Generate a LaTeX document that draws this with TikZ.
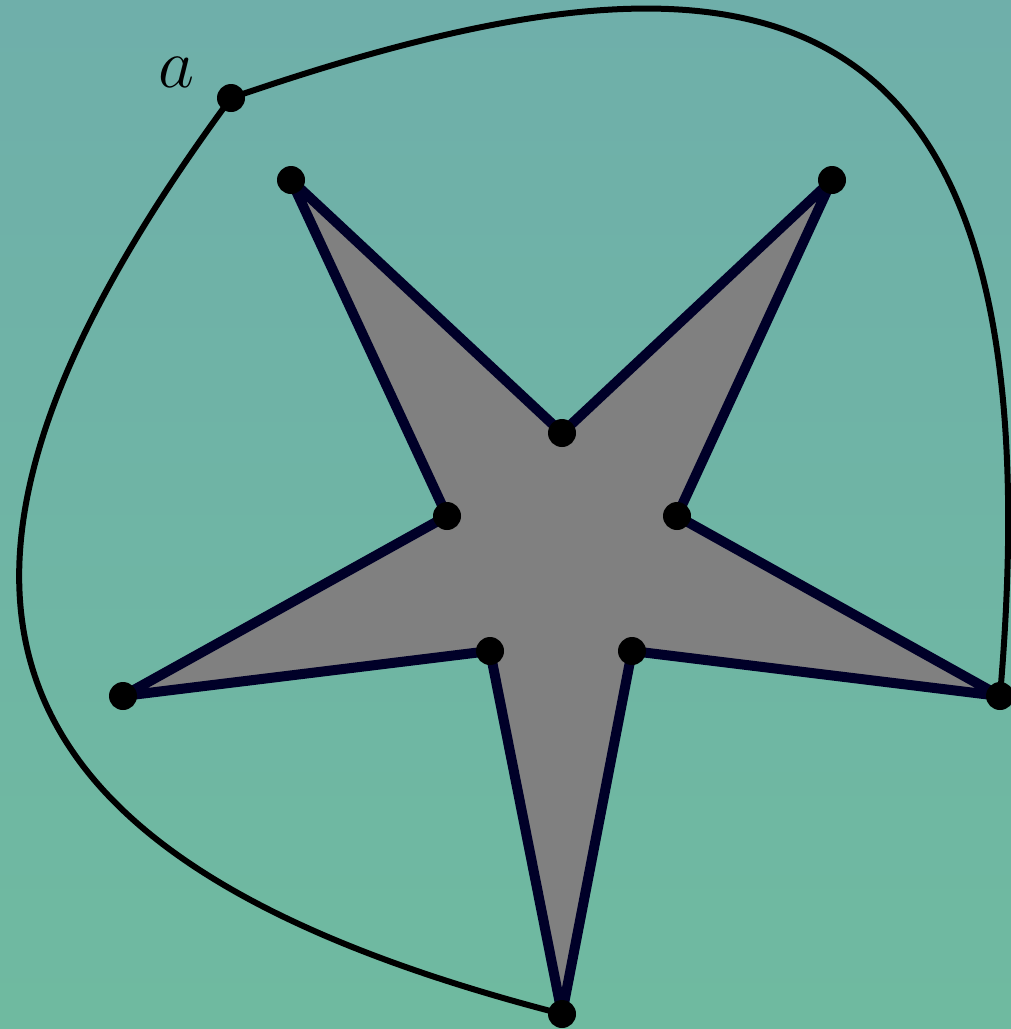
\documentclass[tikz,border=0pt]{standalone}
\usepackage{fix-cm}
\begin{document}
\begin{tikzpicture}[x=1pt,y=-1pt,
  dotstyle/.style={fill=black},
  staredge/.style={draw=starline,line width=10pt,fill=stargray,line join=round},
  bigcurve/.style={draw=black,line width=6pt}]
\definecolor{bgtop}{RGB}{111,175,170}
\definecolor{bgbot}{RGB}{111,186,160}
\definecolor{starline}{RGB}{0,0,40}
\definecolor{stargray}{RGB}{128,128,128}
\shade[top color=bgtop,bottom color=bgbot] (0,0) rectangle (1011,1029);
\useasboundingbox (0,0) rectangle (1011,1029);
% outer points
\coordinate (o1) at (291,180);
\coordinate (o2) at (832,180);
\coordinate (o3) at (1000,696);
\coordinate (o4) at (562,1014);
\coordinate (o5) at (123,696);
% inner points
\coordinate (i1) at (562,433);
\coordinate (i2) at (677,516);
\coordinate (i3) at (632,651);
\coordinate (i4) at (490,651);
\coordinate (i5) at (447,516);
\coordinate (a) at (231,98);
\path[staredge] (o1) -- (i1) -- (o2) -- (i2) -- (o3) -- (i3) -- (o4) -- (i4) -- (o5) -- (i5) -- cycle;
\draw[bigcurve] (o4) .. controls (-20,864) and (-140,600) .. (a)
  .. controls (748,-80) and (1064,-45) .. (o3);
\foreach \p in {o1,o2,o3,o4,o5,i1,i2,i3,i4,i5,a}
  \fill[dotstyle] (\p) circle (14pt);
\node[font=\fontsize{70}{84}\selectfont] (la) at (176,72) {$a$};
\end{tikzpicture}
\end{document}
